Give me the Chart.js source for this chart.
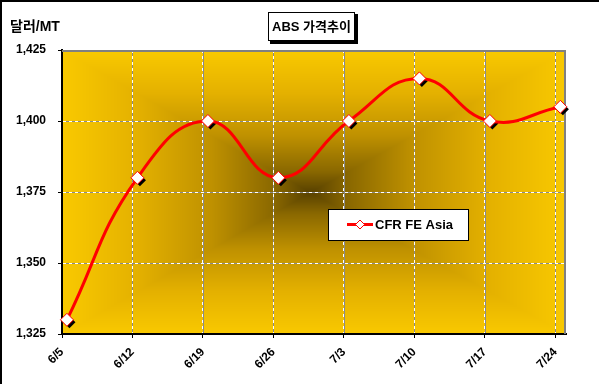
<!DOCTYPE html>
<html><head><meta charset="utf-8">
<script src="https://cdn.jsdelivr.net/npm/chart.js@4/dist/chart.umd.min.js"></script>
<style>html,body{margin:0;padding:0;background:#fff}#wrap{width:599px;height:384px;position:relative}</style>
</head><body><div id="wrap"><canvas id="c" width="599" height="384"></canvas></div>
<script>
const categories = ['6/5','6/12','6/19','6/26','7/3','7/10','7/17','7/24'];
const cfrFeAsia = [1330,1380,1400,1380,1400,1415,1400,1405];
const yTicks = [1325,1350,1375,1400,1425];
const seriesName = 'CFR FE Asia';
const chartTitle = 'ABS 가격추이';
const yAxisTitle = '달러/MT';

const FAM = '"Liberation Sans", Arial, "Noto Sans CJK KR", sans-serif';
const SHIFT = 0.07;

function hex(c) { return [parseInt(c.slice(1,3),16), parseInt(c.slice(3,5),16), parseInt(c.slice(5,7),16)]; }
const gradStops = [[0,'#F9C900'],[0.3,'#E4B100'],[0.6,'#BF9100'],[0.85,'#8A6800'],[1,'#584100']].map(s => [s[0], hex(s[1])]);
function gradColor(t) {
  for (let i = 1; i < gradStops.length; i++) {
    if (t <= gradStops[i][0]) {
      const a = gradStops[i-1], b = gradStops[i];
      const f = (t - a[0]) / (b[0] - a[0]);
      return [0,1,2].map(k => a[1][k] + (b[1][k] - a[1][k]) * f);
    }
  }
  return gradStops[gradStops.length-1][1];
}

const bgPlugin = {
  id: 'bg',
  beforeDraw(chart) {
    const ctx = chart.ctx, a = chart.chartArea;
    const L = Math.round(a.left), T = Math.round(a.top), R = Math.round(a.right), B = Math.round(a.bottom);
    const W = R - L, H = B - T;
    const cx = W / 2 - 4, cy = H / 2;
    ctx.save();
    ctx.fillStyle = '#fff';
    ctx.fillRect(0, 0, chart.width, chart.height);
    const img = ctx.createImageData(W, H);
    for (let y = 0; y < H; y++) {
      for (let x = 0; x < W; x++) {
        const fx = x < cx ? (cx - x) / cx : (x - cx) / (W - cx);
        const fy = y < cy ? (cy - y) / cy : (y - cy) / (H - cy);
        const t = 1 - Math.max(fx, fy);
        const c = gradColor(Math.max(0, Math.min(1, t)));
        const o = (y * W + x) * 4;
        img.data[o] = c[0]; img.data[o+1] = c[1]; img.data[o+2] = c[2]; img.data[o+3] = 255;
      }
    }
    ctx.putImageData(img, L, T);
    // gray base under dashed grid lines
    ctx.strokeStyle = '#8a8a8a';
    ctx.lineWidth = 1;
    const ys = chart.scales.y, xs = chart.scales.x;
    ys.ticks.forEach(t => {
      const y = Math.round(ys.getPixelForValue(t.value)) + 0.5;
      ctx.beginPath(); ctx.moveTo(L, y); ctx.lineTo(R, y); ctx.stroke();
    });
    xs.ticks.forEach(t => {
      const x = Math.round(xs.getPixelForValue(t.value)) + 0.5;
      ctx.beginPath(); ctx.moveTo(x, T); ctx.lineTo(x, B); ctx.stroke();
    });
    ctx.restore();
  },
  beforeDatasetsDraw(chart) {
    const ctx = chart.ctx, a = chart.chartArea;
    ctx.save();
    ctx.strokeStyle = '#808080';
    ctx.lineWidth = 2;
    ctx.beginPath();
    ctx.moveTo(a.left, a.top + 1); ctx.lineTo(a.right - 1, a.top + 1); ctx.lineTo(a.right - 1, a.bottom);
    ctx.stroke();
    // marker shadows
    const meta = chart.getDatasetMeta(0);
    ctx.fillStyle = '#000';
    meta.data.forEach(p => {
      const x = p.x + 2.5, y = p.y + 2.5, r = 6;
      ctx.beginPath();
      ctx.moveTo(x, y - r); ctx.lineTo(x + r, y); ctx.lineTo(x, y + r); ctx.lineTo(x - r, y);
      ctx.closePath(); ctx.fill();
    });
    ctx.restore();
  },
  afterDraw(chart) {
    const ctx = chart.ctx;
    ctx.save();
    ctx.fillStyle = '#000';
    ctx.fillRect(0, 0, chart.width, 2);
    ctx.fillRect(0, 0, 2, chart.height);
    // title box
    ctx.fillRect(270, 14, 88, 30);
    ctx.fillStyle = '#fff';
    ctx.fillRect(268, 12, 87, 29);
    ctx.strokeStyle = '#000';
    ctx.lineWidth = 1;
    ctx.strokeRect(268.5, 12.5, 86, 28);
    ctx.fillStyle = '#000';
    ctx.font = 'bold 13px ' + FAM;
    ctx.textAlign = 'center';
    ctx.textBaseline = 'middle';
    ctx.fillText(chartTitle, 311.5, 27);
    // y axis title
    ctx.font = 'bold 14px ' + FAM;
    ctx.textAlign = 'left';
    ctx.fillText(yAxisTitle, 10, 27);
    // legend
    const ds = chart.data.datasets[0];
    ctx.fillStyle = '#fff';
    ctx.fillRect(328, 209, 141, 32);
    ctx.strokeRect(328.5, 209.5, 140, 31);
    ctx.strokeStyle = ds.borderColor;
    ctx.lineWidth = 3;
    ctx.beginPath(); ctx.moveTo(347, 224.5); ctx.lineTo(373, 224.5); ctx.stroke();
    ctx.lineWidth = 1;
    ctx.fillStyle = '#fff';
    ctx.beginPath();
    ctx.moveTo(360, 220); ctx.lineTo(364.5, 224.5); ctx.lineTo(360, 229); ctx.lineTo(355.5, 224.5);
    ctx.closePath(); ctx.fill(); ctx.stroke();
    ctx.fillStyle = '#000';
    ctx.font = 'bold 13px ' + FAM;
    ctx.textBaseline = 'middle';
    ctx.fillText(ds.label, 375, 225);
    ctx.restore();
  }
};

new Chart(document.getElementById('c'), {
  type: 'line',
  data: {
    datasets: [{
      label: seriesName,
      data: cfrFeAsia.map((v, i) => ({ x: i, y: v })),
      borderColor: '#FF0000',
      borderWidth: 3,
      tension: 0.45,
      pointStyle: 'rectRot',
      pointRadius: 6.5,
      pointBackgroundColor: '#fff',
      pointBorderColor: '#FF0000',
      pointBorderWidth: 1,
      clip: false
    }]
  },
  options: {
    responsive: false,
    animation: false,
    devicePixelRatio: 1,
    layout: { padding: { top: 50, right: 33, left: 0, bottom: 0 } },
    plugins: { legend: { display: false }, title: { display: false }, tooltip: { enabled: false } },
    scales: {
      x: {
        type: 'linear',
        min: -SHIFT,
        max: 7.08,
        afterBuildTicks: s => { s.ticks = categories.map((c, i) => ({ value: i - SHIFT })); },
        afterFit: s => { s.height = 50; },
        ticks: {
          autoSkip: false, maxRotation: 45, minRotation: 45,
          color: '#000', padding: 7,
          font: { family: FAM, size: 12, weight: 'bold' },
          callback: (v, i) => categories[i]
        },
        grid: { color: '#fff', lineWidth: 1, tickLength: 4, tickColor: '#000', tickWidth: 1 },
        border: { color: '#000', width: 2, dash: [3, 3] }
      },
      y: {
        type: 'linear',
        min: yTicks[0],
        max: yTicks[yTicks.length - 1],
        afterBuildTicks: s => { s.ticks = yTicks.map(v => ({ value: v })); },
        afterFit: s => { s.width = 62; },
        ticks: {
          color: '#000', padding: 12,
          font: { family: FAM, size: 12, weight: 'bold' },
          callback: v => v.toLocaleString('en-US')
        },
        grid: { color: '#fff', lineWidth: 1, tickLength: 4, tickColor: '#000', tickWidth: 1 },
        border: { color: '#000', width: 2, dash: [3, 3] }
      }
    }
  },
  plugins: [bgPlugin]
});
</script>
</body></html>
